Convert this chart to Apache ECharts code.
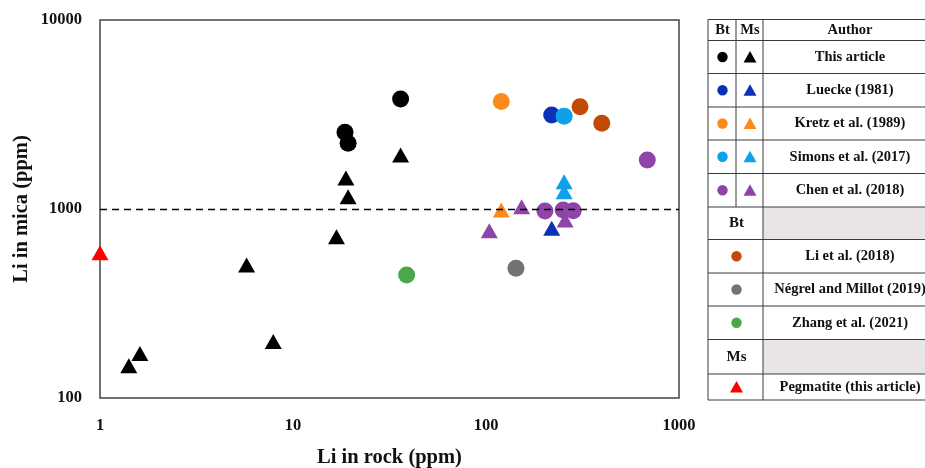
<!DOCTYPE html>
<html>
<head>
<meta charset="utf-8">
<script src="https://cdn.jsdelivr.net/npm/echarts@6/dist/echarts.min.js"></script>
<style>html,body{margin:0;padding:0;background:#fff;}#c{width:925px;height:468px;}</style>
</head>
<body>
<div id="c"></div>
<script>
// ---- data (Li in rock ppm, Li in mica ppm) ----
const thisArticleBt = [[36.1,3820],[18.6,2546],[19.3,2226]];
const thisArticleMs = [[36.1,1931],[18.8,1459],[19.3,1162],[16.8,714],[5.75,505],[7.9,199],[1.61,172],[1.41,148]];
const lueckeBt = [[219,3140]];
const lueckeMs = [[219,791]];
const kretzBt = [[120,3700]];
const kretzMs = [[120,988]];
const simonsBt = [[254,3100]];
const simonsMs = [[254,1395],[254,1234]];
const chenBt = [[685,1815],[202,975],[251,988],[283,980]];
const chenMs = [[104,767],[153,1028],[257,875]];
const liBt = [[307,3475],[398,2841]];
const negrelBt = [[143,486]];
const zhangBt = [[38.8,448]];
const pegmatiteMs = [[1.0,587]];
const thresholdY = 1000;

const xTickLabels = ['1','10','100','1000'];
const yTickLabels = ['100','1000','10000'];

const authorsBoth = ['This article','Luecke (1981)','Kretz et al. (1989)','Simons et al. (2017)','Chen et al. (2018)'];
const authorsBt = ['Li et al. (2018)','Négrel and Millot (2019)','Zhang et al. (2021)'];
const authorsMs = ['Pegmatite (this article)'];

// ---- styles ----
const C = {
  black:'#000000', dblue:'#0b31b6', orange:'#ff8a1c', lblue:'#0ea0e8',
  purple:'#8f44a9', brown:'#c24a06', gray:'#737373', green:'#4aa84a', red:'#ff0000'
};
const FONT = '"Liberation Serif", "Times New Roman", serif';
const CIRC = 17, TRI = [17,15];

function circ(name, data, color){ return {name, type:'scatter', data, symbol:'circle', symbolSize:CIRC, itemStyle:{color, opacity:1}, clip:false}; }
function tri(name, data, color){ return {name, type:'scatter', data, symbol:'triangle', symbolSize:TRI, itemStyle:{color, opacity:1}, clip:false}; }

const series = [
  {type:'scatter', data:[], markLine:{silent:true, symbol:'none', label:{show:false},
    lineStyle:{color:'#000', type:[7,5], width:1.4}, data:[{yAxis:thresholdY}]}},
  circ('This article Bt', thisArticleBt, C.black),
  tri('This article Ms', thisArticleMs, C.black),
  circ('Luecke Bt', lueckeBt, C.dblue),
  tri('Luecke Ms', lueckeMs, C.dblue),
  circ('Kretz Bt', kretzBt, C.orange),
  tri('Kretz Ms', kretzMs, C.orange),
  circ('Simons Bt', simonsBt, C.lblue),
  tri('Simons Ms', simonsMs, C.lblue),
  tri('Chen Ms', chenMs, C.purple),
  circ('Chen Bt', chenBt, C.purple),
  circ('Li Bt', liBt, C.brown),
  circ('Negrel Bt', negrelBt, C.gray),
  circ('Zhang Bt', zhangBt, C.green),
  tri('Pegmatite Ms', pegmatiteMs, C.red)
];

// ---- legend table (graphic) ----
const X0 = 708, XC1 = 736, XC2 = 763, XR = 940;
const rowY = [19.5, 40.5, 73.5, 107, 140, 173.5, 207, 239.5, 273, 306, 339.5, 374, 400];
const g = [];
const lineColor = '#3a3a3a';
function hline(y){ g.push({type:'line', shape:{x1:X0,y1:y,x2:XR,y2:y}, style:{stroke:lineColor, lineWidth:1}, z:10}); }
function vline(x,y1,y2){ g.push({type:'line', shape:{x1:x,y1:y1,x2:x,y2:y2}, style:{stroke:lineColor, lineWidth:1}, z:10}); }
function txt(s,x,y,size){ g.push({type:'text', x, y, style:{text:s, fill:'#111', font:'bold '+size+'px '+FONT, textAlign:'center', textVerticalAlign:'middle'}, z:11}); }
function lcirc(x,y,color){ g.push({type:'circle', shape:{cx:x, cy:y, r:5.2}, style:{fill:color}, z:11}); }
function ltri(x,y,color){ g.push({type:'polygon', shape:{points:[[x,y-6],[x-6.5,y+5.5],[x+6.5,y+5.5]]}, style:{fill:color}, z:11}); }

// gray cells
g.push({type:'rect', shape:{x:XC2, y:rowY[6], width:XR-XC2, height:rowY[7]-rowY[6]}, style:{fill:'#e8e4e7'}, z:5});
g.push({type:'rect', shape:{x:XC2, y:rowY[10], width:XR-XC2, height:rowY[11]-rowY[10]}, style:{fill:'#e8e4e7'}, z:5});
rowY.forEach(y=>hline(y));
vline(X0, rowY[0], rowY[rowY.length-1]);
vline(XC2, rowY[0], rowY[rowY.length-1]);
vline(XC1, rowY[0], rowY[6]);

const authorX = 850;
const midY = i => (rowY[i]+rowY[i+1])/2;
txt('Bt', 722.5, midY(0), 14.5);
txt('Ms', 750, midY(0), 14.5);
txt('Author', authorX, midY(0), 14.5);
const bothColors = [C.black, C.dblue, C.orange, C.lblue, C.purple];
authorsBoth.forEach((a,i)=>{
  const r = i+1;
  lcirc(722.5, midY(r), bothColors[i]);
  ltri(750, midY(r), bothColors[i]);
  txt(a, authorX, midY(r), 14.5);
});
txt('Bt', 736.5, midY(6), 15);
const btColors = [C.brown, C.gray, C.green];
authorsBt.forEach((a,i)=>{
  const r = i+7;
  lcirc(736.5, midY(r), btColors[i]);
  txt(a, authorX, midY(r), 14.5);
});
txt('Ms', 736.5, midY(10), 15);
authorsMs.forEach((a,i)=>{
  const r = i+11;
  ltri(736.5, midY(r), C.red);
  txt(a, authorX, midY(r), 14.5);
});

const chart = echarts.init(document.getElementById('c'), null, {renderer:'canvas'});
chart.setOption({
  animation:false,
  backgroundColor:'#fff',
  grid:{left:100, right:246, top:20, bottom:70, show:true, borderColor:'#444', borderWidth:1.5,
    containLabel:false, outerBoundsMode:'none'},
  xAxis:{type:'log', logBase:10, min:1, max:1000,
    name:'Li in rock (ppm)', nameLocation:'middle', nameGap:49,
    nameTextStyle:{fontFamily:FONT, fontWeight:'bold', fontSize:20.5, color:'#111'},
    axisLine:{show:false}, axisTick:{show:false}, splitLine:{show:false}, minorTick:{show:false},
    axisLabel:{margin:19, fontFamily:FONT, fontWeight:'bold', fontSize:16.5, color:'#111',
      formatter:(v,i)=>xTickLabels[i] !== undefined ? xTickLabels[i] : ''}},
  yAxis:{type:'log', logBase:10, min:100, max:10000,
    name:'Li in mica (ppm)', nameLocation:'middle', nameGap:68, nameRotate:90, nameMoveOverlap:false,
    nameTextStyle:{fontFamily:FONT, fontWeight:'bold', fontSize:20.5, color:'#111'},
    axisLine:{show:false}, axisTick:{show:false}, splitLine:{show:false}, minorTick:{show:false},
    axisLabel:{margin:18, fontFamily:FONT, fontWeight:'bold', fontSize:16.5, color:'#111',
      formatter:(v,i)=>yTickLabels[i] !== undefined ? yTickLabels[i] : ''}},
  series,
  graphic:g
});
</script>
</body>
</html>
